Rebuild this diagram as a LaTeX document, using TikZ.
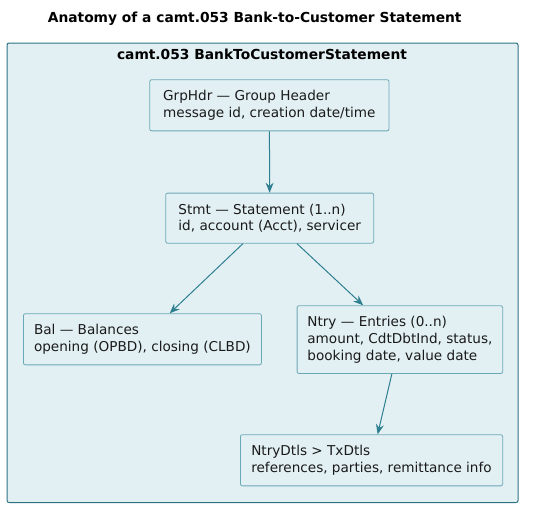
\documentclass[tikz,border=0pt]{standalone}
\usepackage{fontspec}
\setmainfont{DejaVu Sans}
\usetikzlibrary{arrows.meta}
\definecolor{framefill}{HTML}{E2F0F4}
\definecolor{frameline}{HTML}{2D7283}
\definecolor{boxline}{HTML}{6BA8B5}
\definecolor{linkline}{HTML}{2E7F8F}
\definecolor{ink}{HTML}{1A1A1A}
\tikzset{
  ttl/.style={font=\fontsize{10.35pt}{12.5pt}\selectfont\bfseries,text=black,inner sep=0pt},
  part/.style={draw=boxline,fill=framefill,line width=0.6pt,rounded corners=1.5pt,anchor=north west,
    align=left,inner xsep=6.8pt,inner ysep=8pt,font=\fontsize{10.2pt}{12.5pt}\selectfont,text=ink},
  link/.style={draw=linkline,line width=0.75pt,-{Stealth[length=7.5pt,width=6pt,inset=2.5pt]}},
}
\begin{document}
\begin{tikzpicture}[x=0.75pt,y=-0.75pt]
  \useasboundingbox (0,0) rectangle (533,508);
  \node[ttl,anchor=base] (title) at (254.7,22.7) {Anatomy of a camt.053 Bank-to-Customer Statement};
  \draw[draw=frameline,fill=framefill,line width=0.75pt,rounded corners=1.5pt] (7,43) rectangle (518,502.5);
  \node[ttl,anchor=base] (frametitle) at (262,59.3) {camt.053 BankToCustomerStatement};
  \node[part,minimum width=179.5pt] (grphdr) at (149.3,79.3) {GrpHdr — Group Header\\message id, creation date/time};
  \node[part,minimum width=156pt] (stmt) at (165.3,192.7) {Stmt — Statement (1..n)\\id, account (Acct), servicer};
  \node[part,minimum width=178.5pt] (bal) at (23,313.3) {Bal — Balances\\opening (OPBD), closing (CLBD)};
  \node[part,minimum width=154.2pt] (ntry) at (296.7,305.3) {Ntry — Entries (0..n)\\amount, CdtDbtInd, status,\\booking date, value date};
  \node[part,minimum width=196.7pt] (dtls) at (240,434.3) {NtryDtls > TxDtls\\references, parties, remittance info};
  \draw[link] (grphdr) -- (stmt);
  \draw[link] (stmt) -- (bal);
  \draw[link] (stmt) -- (ntry);
  \draw[link] (ntry) -- (dtls);
\end{tikzpicture}
\end{document}
